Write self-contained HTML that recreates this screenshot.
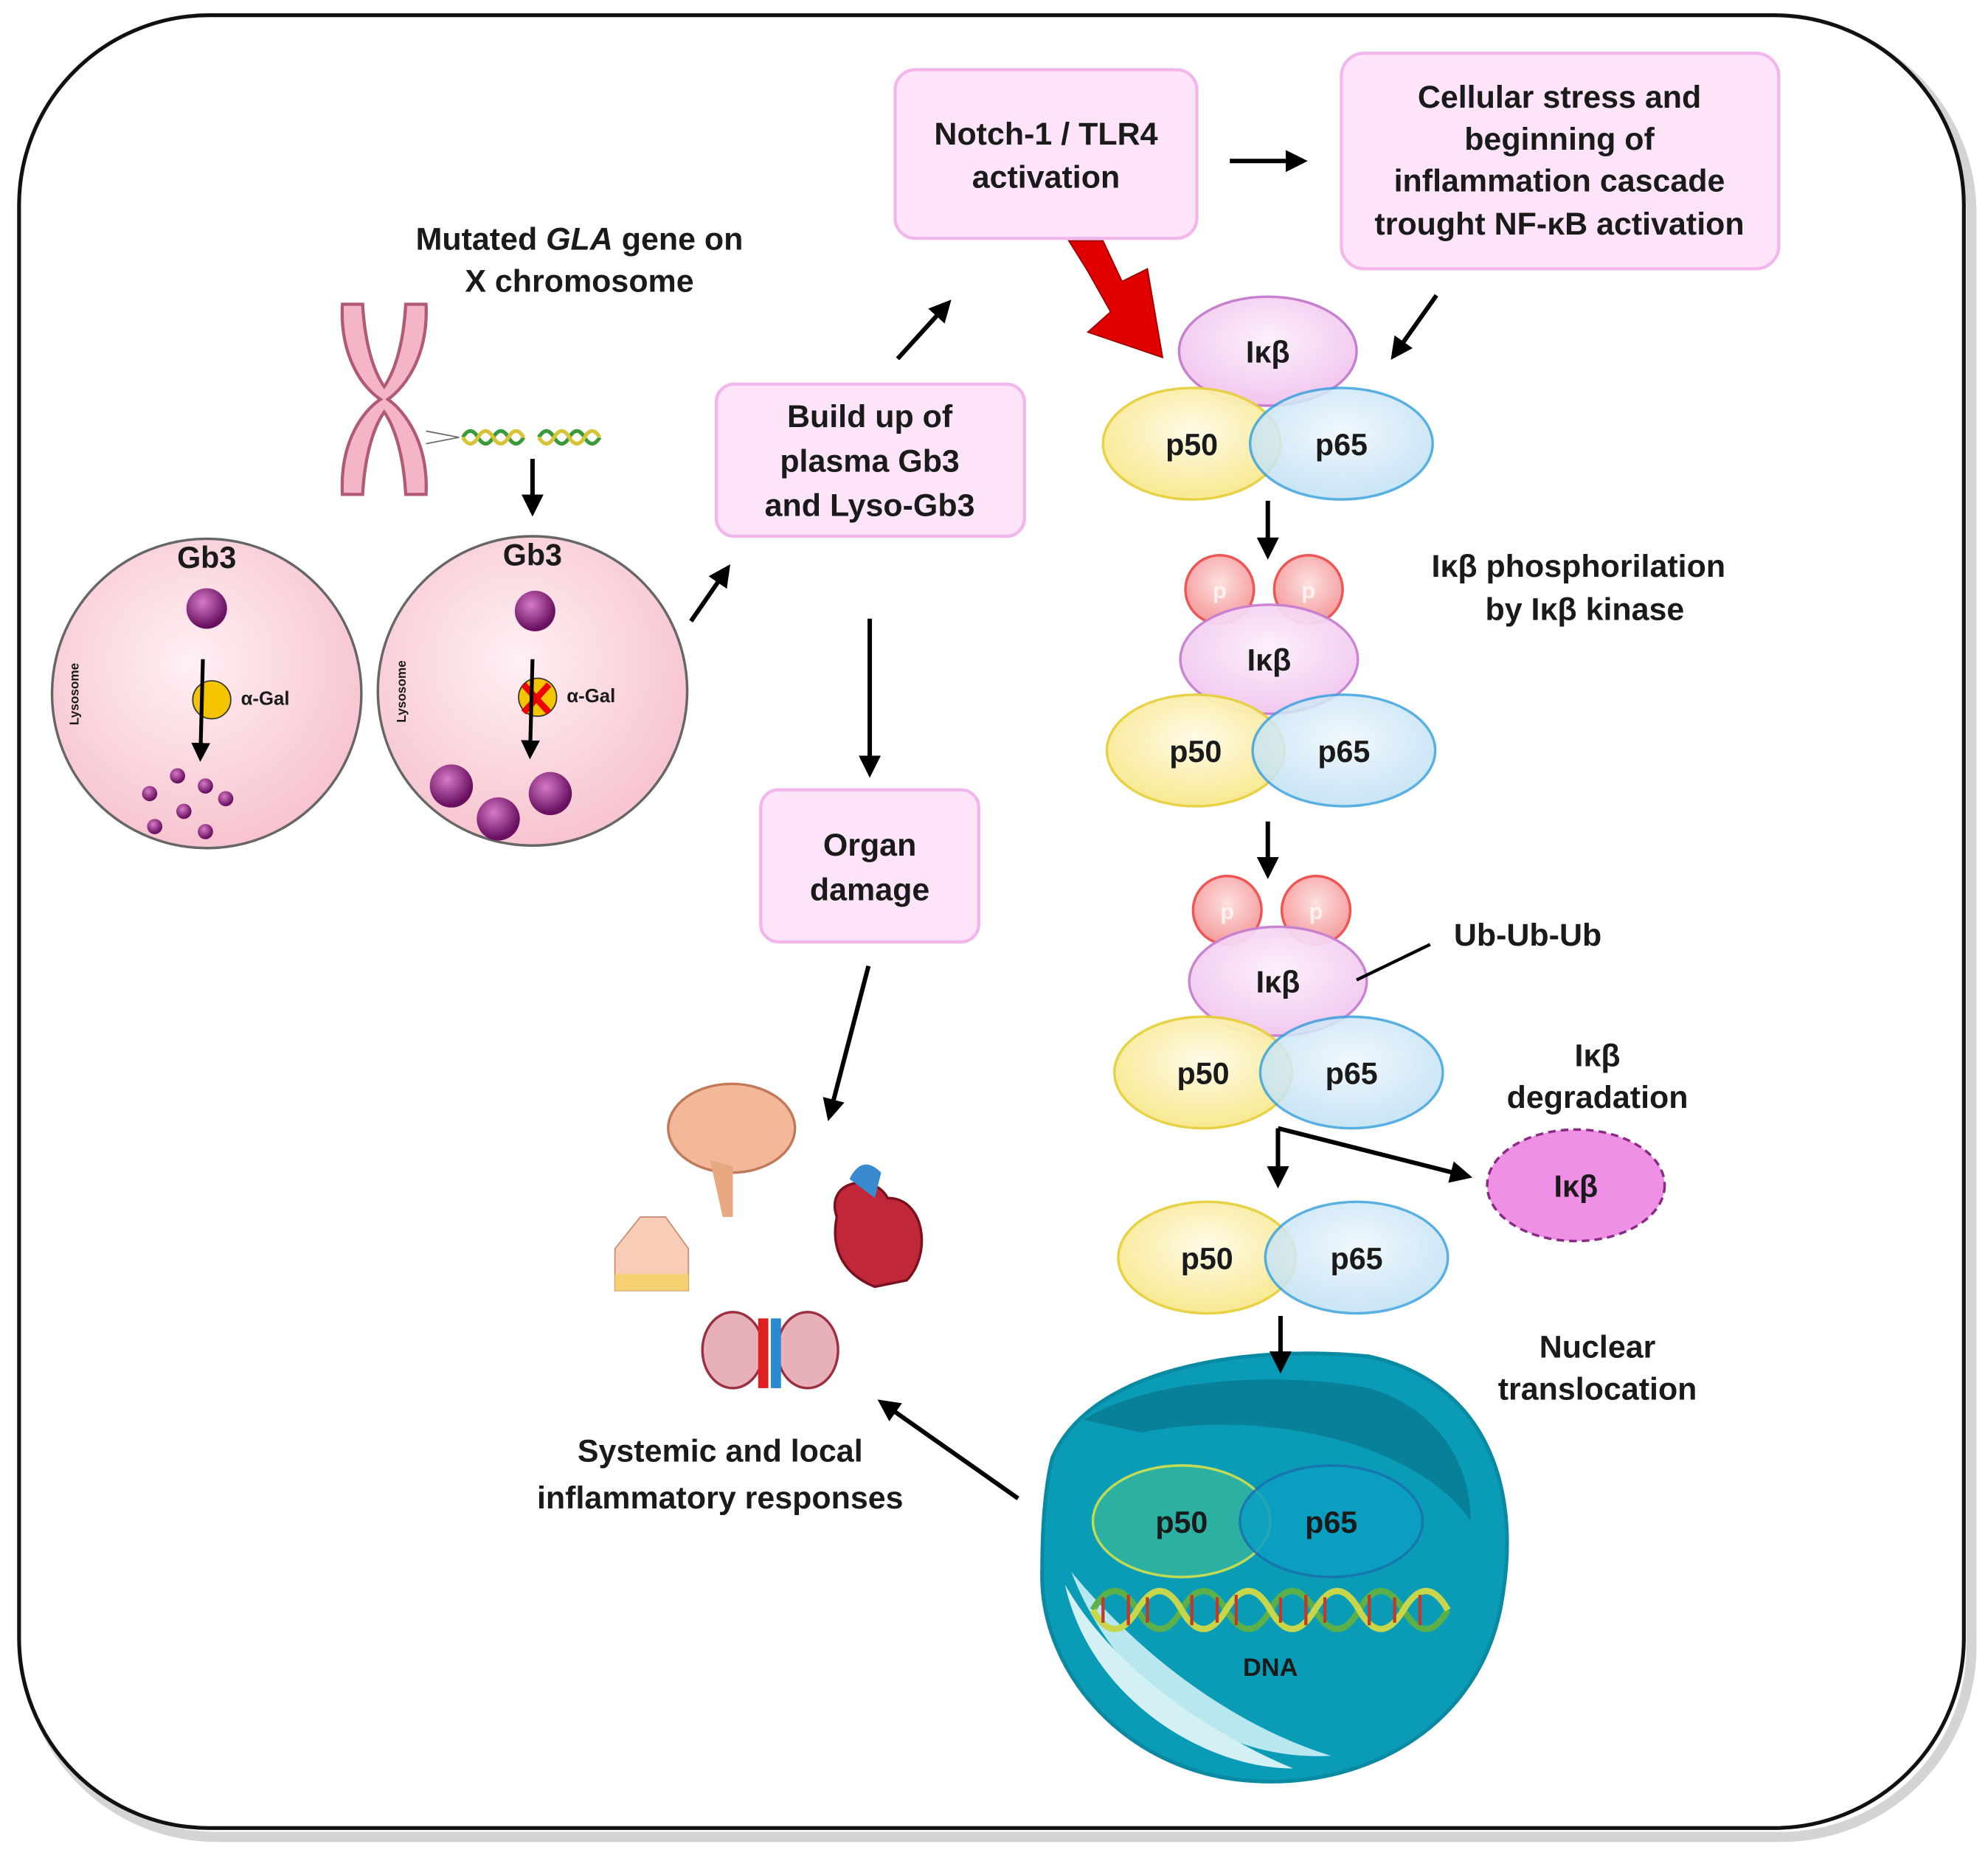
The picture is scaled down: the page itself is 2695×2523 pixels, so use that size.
<!DOCTYPE html>
<html><head><meta charset="utf-8"><style>
html,body{margin:0;padding:0;background:#fff;}
svg{display:block;}
text{font-family:"Liberation Sans",sans-serif;font-weight:bold;fill:#1a1a1a;}
</style></head><body>
<svg width="2695" height="2523" viewBox="0 0 1568 1468" xmlns="http://www.w3.org/2000/svg">
<defs>
<marker id="ah" viewBox="0 0 10 10" refX="8" refY="5" markerWidth="5" markerHeight="5" orient="auto"><path d="M0,0L10,5L0,10z" fill="#000"/></marker>
<radialGradient id="yel" cx="50%" cy="40%" r="60%"><stop offset="0" stop-color="#fffbe8"/><stop offset="1" stop-color="#f8e88a"/></radialGradient>
<radialGradient id="blu" cx="50%" cy="40%" r="60%"><stop offset="0" stop-color="#eef7fd"/><stop offset="1" stop-color="#bfe0f3"/></radialGradient>
<radialGradient id="pnk" cx="50%" cy="40%" r="60%"><stop offset="0" stop-color="#fdf0fc"/><stop offset="1" stop-color="#f1c6ee"/></radialGradient>
<radialGradient id="cell" cx="45%" cy="40%" r="60%"><stop offset="0" stop-color="#fff0f3"/><stop offset="1" stop-color="#f7c4cf"/></radialGradient>
<radialGradient id="ball" cx="40%" cy="35%" r="60%"><stop offset="0" stop-color="#d77ac8"/><stop offset="1" stop-color="#6a1060"/></radialGradient>
<radialGradient id="pp" cx="50%" cy="40%" r="60%"><stop offset="0" stop-color="#fde0e0"/><stop offset="1" stop-color="#f59a9a"/></radialGradient>
</defs>
<rect x="18" y="15" width="1534" height="1430" rx="150" fill="#fff" stroke="#aaa" stroke-width="8" opacity="0.5" transform="translate(3,4)"/>
<rect x="15" y="12" width="1534" height="1430" rx="150" fill="#fff" stroke="#111" stroke-width="3"/>

<g fill="#fde4f8" stroke="#f3b6ec" stroke-width="2.5">
<rect x="706" y="55" width="238" height="133" rx="16"/>
<rect x="1058" y="42" width="345" height="170" rx="18"/>
<rect x="565" y="303" width="243" height="120" rx="14"/>
<rect x="600" y="623" width="172" height="120" rx="14"/>
</g>
<g font-size="25" text-anchor="middle">
<text x="825" y="114">Notch-1 / TLR4</text><text x="825" y="148">activation</text>
<text x="1230" y="85">Cellular stress and</text><text x="1230" y="118">beginning of</text><text x="1230" y="151">inflammation cascade</text><text x="1230" y="185">trought NF-κB activation</text>
<text x="686" y="337">Build up of</text><text x="686" y="372">plasma Gb3</text><text x="686" y="407">and Lyso-Gb3</text>
<text x="686" y="675">Organ</text><text x="686" y="710">damage</text>
<text x="457" y="197">Mutated <tspan font-style="italic">GLA</tspan> gene on</text><text x="457" y="230">X chromosome</text>
<text x="1245" y="455">Iκβ phosphorilation</text><text x="1250" y="489">by Iκβ kinase</text>
<text x="1205" y="746">Ub-Ub-Ub</text>
<text x="1260" y="841">Iκβ</text><text x="1260" y="874">degradation</text>
<text x="1260" y="1071">Nuclear</text><text x="1260" y="1104">translocation</text>
<text x="568" y="1153">Systemic and local</text><text x="568" y="1190">inflammatory responses</text>
</g>

<!-- red arrow -->
<path d="M843,190 L870,190 L885,222 L905,212 L917,282 L858,262 L876,246 L858,214 Z" fill="#e10000" stroke="#900" stroke-width="1"/>

<!-- complexes -->
<g stroke-width="2">
<ellipse cx="1000" cy="277" rx="70" ry="43" fill="url(#pnk)" stroke="#c77fd0"/>
<ellipse cx="940" cy="350" rx="70" ry="44" fill="url(#yel)" stroke="#e6cf3c" opacity="0.95"/>
<ellipse cx="1058" cy="350" rx="72" ry="44" fill="url(#blu)" stroke="#3aa2dd" opacity="0.85"/>

<circle cx="962" cy="465" r="27" fill="url(#pp)" stroke="#e55"/><circle cx="1032" cy="465" r="27" fill="url(#pp)" stroke="#e55"/>
<ellipse cx="1001" cy="520" rx="70" ry="43" fill="url(#pnk)" stroke="#c77fd0" opacity="0.95"/>
<ellipse cx="943" cy="592" rx="70" ry="44" fill="url(#yel)" stroke="#e6cf3c" opacity="0.95"/>
<ellipse cx="1060" cy="592" rx="72" ry="44" fill="url(#blu)" stroke="#3aa2dd" opacity="0.85"/>

<circle cx="968" cy="718" r="27" fill="url(#pp)" stroke="#e55"/><circle cx="1038" cy="718" r="27" fill="url(#pp)" stroke="#e55"/>
<ellipse cx="1008" cy="774" rx="70" ry="43" fill="url(#pnk)" stroke="#c77fd0" opacity="0.95"/>
<ellipse cx="949" cy="846" rx="70" ry="44" fill="url(#yel)" stroke="#e6cf3c" opacity="0.95"/>
<ellipse cx="1066" cy="846" rx="72" ry="44" fill="url(#blu)" stroke="#3aa2dd" opacity="0.85"/>

<ellipse cx="952" cy="992" rx="70" ry="44" fill="url(#yel)" stroke="#e6cf3c" opacity="0.95"/>
<ellipse cx="1070" cy="992" rx="72" ry="44" fill="url(#blu)" stroke="#3aa2dd" opacity="0.85"/>
<ellipse cx="1243" cy="935" rx="70" ry="44" fill="#ef8fe6" stroke="#8a2a86" stroke-dasharray="6,4"/>
</g>
<g font-size="24" text-anchor="middle">
<text x="1000" y="286">Iκβ</text><text x="940" y="359">p50</text><text x="1058" y="359">p65</text>
<text x="1001" y="529">Iκβ</text><text x="943" y="601">p50</text><text x="1060" y="601">p65</text>
<text x="1008" y="783">Iκβ</text><text x="949" y="855">p50</text><text x="1066" y="855">p65</text>
<text x="952" y="1001">p50</text><text x="1070" y="1001">p65</text><text x="1243" y="944">Iκβ</text>
</g>
<g font-size="18" fill="#fff" text-anchor="middle" style="fill:#fff" opacity="0.7">
<text x="962" y="472" style="fill:#fff">p</text><text x="1032" y="472" style="fill:#fff">p</text>
<text x="968" y="725" style="fill:#fff">p</text><text x="1038" y="725" style="fill:#fff">p</text>
</g>
<line x1="1070" y1="773" x2="1128" y2="745" stroke="#000" stroke-width="2.5"/>

<!-- nucleus -->
<path d="M830,1150 C860,1080 980,1060 1080,1070 C1170,1090 1200,1170 1185,1260 C1170,1360 1080,1410 990,1405 C890,1400 820,1320 822,1240 C822,1200 825,1170 830,1150 Z" fill="#0a9cb6" stroke="#0a8aa2" stroke-width="3"/>
<path d="M855,1120 C900,1090 1000,1080 1080,1095 C1130,1110 1160,1150 1160,1200 C1120,1140 1000,1110 900,1130 Z" fill="#08809a"/>
<path d="M845,1240 C880,1330 960,1390 1050,1385 C1000,1370 920,1330 845,1240 Z" fill="#b9e7ef"/>
<path d="M840,1250 C860,1340 950,1395 1020,1395 C960,1370 880,1320 840,1250 Z" fill="#d3f0f5"/>
<ellipse cx="932" cy="1200" rx="70" ry="44" fill="#2fb3a0" stroke="#d7e24a" stroke-width="2" opacity="0.9"/>
<ellipse cx="1050" cy="1200" rx="72" ry="44" fill="#0aa0c4" stroke="#1a70b0" stroke-width="2" opacity="0.85"/>
<g font-size="24" text-anchor="middle"><text x="932" y="1209">p50</text><text x="1050" y="1209">p65</text></g>
<g fill="none" stroke-width="5">
<path d="M862,1270 q17,-30 35,0 t35,0 t35,0 t35,0 t35,0 t35,0 t35,0 t35,0" stroke="#5bb04a"/>
<path d="M862,1270 q17,30 35,0 t35,0 t35,0 t35,0 t35,0 t35,0 t35,0 t35,0" stroke="#c7d64a"/>
</g>
<g stroke-width="2.5"><path d="M870,1260v20M890,1258v24M905,1260v20M940,1258v24M960,1260v20M975,1258v24M1010,1260v20M1030,1258v24M1045,1260v20M1080,1258v24M1100,1260v20M1120,1258v24" stroke="#c0392b"/></g>
<text x="1002" y="1322" font-size="20" text-anchor="middle">DNA</text>

<!-- cells -->
<circle cx="163" cy="547" r="122" fill="url(#cell)" stroke="#666" stroke-width="2"/>
<circle cx="420" cy="545" r="122" fill="url(#cell)" stroke="#666" stroke-width="2"/>
<g font-size="24" text-anchor="middle"><text x="163" y="448">Gb3</text><text x="420" y="446">Gb3</text></g>
<g font-size="10"><text transform="translate(62,572) rotate(-90)">Lysosome</text><text transform="translate(320,570) rotate(-90)">Lysosome</text></g>
<g font-size="15"><text x="190" y="556">α-Gal</text><text x="447" y="554">α-Gal</text></g>
<circle cx="163" cy="480" r="16" fill="url(#ball)"/><circle cx="422" cy="482" r="16" fill="url(#ball)"/>
<circle cx="167" cy="552" r="15" fill="#f5c400" stroke="#333"/><circle cx="424" cy="550" r="15" fill="#f5c400" stroke="#333"/>
<path d="M413,540l20,22M433,540l-20,22" stroke="#e00" stroke-width="5"/>
<g stroke="#000" stroke-width="3" fill="none" marker-end="url(#ah)"><path d="M160,520 L158,598"/><path d="M420,520 L418,596"/></g>
<g fill="url(#ball)"><circle cx="118" cy="626" r="6"/><circle cx="140" cy="612" r="6"/><circle cx="162" cy="620" r="6"/><circle cx="178" cy="630" r="6"/><circle cx="145" cy="640" r="6"/><circle cx="122" cy="652" r="6"/><circle cx="162" cy="656" r="6"/>
<circle cx="356" cy="620" r="17"/><circle cx="434" cy="626" r="17"/><circle cx="393" cy="646" r="17"/></g>

<!-- chromosome -->
<g fill="#f4b6c6" stroke="#b05a78" stroke-width="2.5">
<path d="M270,240 C268,280 285,305 300,315 C285,325 268,350 270,390 L286,390 C288,355 296,335 303,325 C310,335 318,355 320,390 L336,390 C338,350 320,325 306,315 C320,305 338,280 336,240 L320,240 C318,275 310,295 303,305 C296,295 288,275 286,240 Z"/>
</g>
<path d="M336,340 L362,345 L336,350" fill="none" stroke="#666"/>
<g fill="none" stroke-width="3"><path d="M365,345 q6,-10 12,0 t12,0 t12,0 t12,0 M425,345 q6,-10 12,0 t12,0 t12,0 t12,0" stroke="#3a9a3a"/><path d="M365,345 q6,10 12,0 t12,0 t12,0 t12,0 M425,345 q6,10 12,0 t12,0 t12,0 t12,0" stroke="#d6c33a"/></g>

<!-- organs -->
<ellipse cx="577" cy="890" rx="50" ry="35" fill="#f2b899" stroke="#c07a5a" stroke-width="2"/>
<path d="M560,915 l10,45 l8,0 l0,-40z" fill="#e8a882"/>
<path d="M485,985 l20,-25 l20,0 l18,25 v33 h-58z" fill="#f7cdb8" stroke="#c98a70"/>
<rect x="485" y="1005" width="58" height="13" fill="#f5d070"/>
<path d="M660,960 C650,930 690,925 700,945 C730,945 735,990 715,1010 L690,1015 C665,1005 655,985 660,960Z" fill="#c0283a" stroke="#7a1020" stroke-width="2"/>
<path d="M670,930 q10,-20 25,-5 l-5,20z" fill="#3a8ad0"/>
<ellipse cx="578" cy="1065" rx="24" ry="30" fill="#e8b0b8" stroke="#9a3040" stroke-width="2"/>
<ellipse cx="637" cy="1065" rx="24" ry="30" fill="#e8b0b8" stroke="#9a3040" stroke-width="2"/>
<rect x="598" y="1040" width="8" height="55" fill="#e02020"/><rect x="608" y="1040" width="8" height="55" fill="#2a8ad0"/>

<!-- arrows -->
<g stroke="#000" stroke-width="3.5" fill="none" marker-end="url(#ah)">
<path d="M420,362 L420,404"/>
<path d="M545,490 L574,448"/>
<path d="M708,283 L748,239"/>
<path d="M970,127 L1028,127"/>
<path d="M1133,233 L1099,281"/>
<path d="M1000,395 L1000,438"/>
<path d="M686,488 L686,610"/>
<path d="M1000,648 L1000,690"/>
<path d="M1008,890 L1008,934"/>
<path d="M1008,890 L1158,928"/>
<path d="M1010,1038 L1010,1080"/>
<path d="M803,1182 L695,1106"/>
<path d="M685,762 L654,881"/>
</g>
</svg>
</body></html>
